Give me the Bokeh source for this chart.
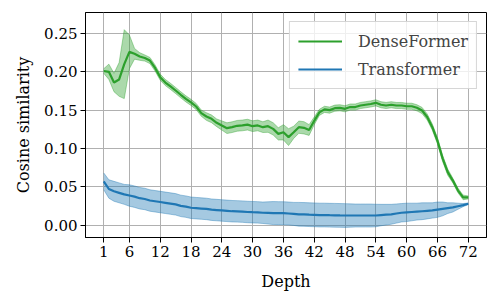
from bokeh.plotting import figure
from bokeh.models import FixedTicker, NumeralTickFormatter, Range1d, Legend, LegendItem, ColumnDataSource
from bokeh.embed import file_html
from bokeh.resources import INLINE

depth = list(range(1, 73))

dense_mean = [0.201, 0.200, 0.186, 0.190, 0.210, 0.226, 0.2235, 0.220, 0.218, 0.2147,
              0.205, 0.193, 0.186, 0.181, 0.1756, 0.170, 0.1647, 0.160, 0.1547, 0.146,
              0.1416, 0.1386, 0.1334, 0.1299, 0.1264, 0.1277, 0.1295, 0.130, 0.131, 0.129,
              0.130, 0.1277, 0.129, 0.1255, 0.119, 0.121, 0.1147, 0.121, 0.1277, 0.1269,
              0.124, 0.136, 0.147, 0.151, 0.150, 0.1525, 0.153, 0.1517, 0.154, 0.154,
              0.156, 0.157, 0.158, 0.1595, 0.157, 0.156, 0.157, 0.156, 0.156, 0.155,
              0.155, 0.153, 0.1495, 0.141, 0.1277, 0.110, 0.087, 0.069, 0.058, 0.045,
              0.036, 0.036]
dense_std = [0.003, 0.010, 0.012, 0.022, 0.045, 0.022, 0.007, 0.005, 0.004, 0.004,
             0.004, 0.004, 0.004, 0.004, 0.004, 0.004, 0.004, 0.004, 0.004, 0.004,
             0.005, 0.005, 0.005, 0.006, 0.007, 0.007, 0.007, 0.007, 0.007, 0.007,
             0.007, 0.007, 0.008, 0.008, 0.008, 0.010, 0.011, 0.008, 0.008, 0.008,
             0.007, 0.005, 0.004, 0.004, 0.004, 0.004, 0.004, 0.004, 0.004, 0.004,
             0.004, 0.004, 0.004, 0.004, 0.004, 0.004, 0.004, 0.004, 0.004, 0.004,
             0.004, 0.004, 0.004, 0.004, 0.004, 0.004, 0.004, 0.004, 0.003, 0.003,
             0.003, 0.002]

trans_mean = [0.057, 0.047, 0.044, 0.042, 0.040, 0.0385, 0.037, 0.035, 0.034, 0.032,
              0.031, 0.030, 0.029, 0.028, 0.027, 0.025, 0.024, 0.0225, 0.022, 0.0215,
              0.021, 0.020, 0.0195, 0.019, 0.0185, 0.018, 0.0178, 0.0175, 0.017, 0.0167,
              0.0165, 0.016, 0.0158, 0.0156, 0.0155, 0.0154, 0.015, 0.0145, 0.014, 0.0138,
              0.0135, 0.0133, 0.013, 0.013, 0.0128, 0.0127, 0.0125, 0.0124, 0.0124, 0.0124,
              0.0124, 0.0124, 0.0124, 0.0124, 0.013, 0.0135, 0.014, 0.015, 0.016, 0.0165,
              0.017, 0.0175, 0.018, 0.0185, 0.019, 0.020, 0.021, 0.022, 0.023, 0.0245,
              0.026, 0.0277]
trans_std = [0.011, 0.012, 0.013, 0.013, 0.013, 0.014, 0.014, 0.014, 0.014, 0.014,
             0.014, 0.014, 0.014, 0.014, 0.014, 0.014, 0.014, 0.014, 0.014, 0.014,
             0.014, 0.014, 0.014, 0.014, 0.014, 0.014, 0.014, 0.014, 0.014, 0.014,
             0.014, 0.014, 0.0145, 0.015, 0.015, 0.015, 0.015, 0.015, 0.0155, 0.0155,
             0.0155, 0.0155, 0.0155, 0.0155, 0.0155, 0.0155, 0.0155, 0.0155, 0.0152, 0.015,
             0.015, 0.015, 0.015, 0.0147, 0.014, 0.0135, 0.013, 0.0125, 0.012, 0.012,
             0.0115, 0.011, 0.011, 0.0105, 0.010, 0.010, 0.009, 0.007, 0.006, 0.004,
             0.002, 0.001]

x_ticks = [1, 6, 12, 18, 24, 30, 36, 42, 48, 54, 60, 66, 72]
y_ticks = [0.0, 0.05, 0.10, 0.15, 0.20, 0.25]

GREEN = "#2ca02c"
BLUE = "#1f77b4"
FONT = "DejaVu Serif"

p = figure(output_backend="svg", toolbar_location=None,
           frame_width=401, frame_height=225,
           min_border_left=85, min_border_right=12, min_border_top=12, min_border_bottom=62,
           x_range=Range1d(-2.55, 75.55), y_range=Range1d(-0.0163, 0.2774))

def band(mean, std):
    lo = [m - s for m, s in zip(mean, std)]
    hi = [m + s for m, s in zip(mean, std)]
    return ColumnDataSource(dict(x=depth, y=mean, lo=lo, hi=hi))

src_d = band(dense_mean, dense_std)
src_t = band(trans_mean, trans_std)

for src, col in ((src_d, GREEN), (src_t, BLUE)):
    p.varea(x="x", y1="lo", y2="hi", source=src, fill_color=col, fill_alpha=0.4)
    p.line(x="x", y="lo", source=src, line_color=col, line_alpha=0.4, line_width=1)
    p.line(x="x", y="hi", source=src, line_color=col, line_alpha=0.4, line_width=1)

r_d = p.line(x="x", y="y", source=src_d, line_color=GREEN, line_width=2.2)
r_t = p.line(x="x", y="y", source=src_t, line_color=BLUE, line_width=2.2)

legend = Legend(items=[LegendItem(label="DenseFormer", renderers=[r_d]),
                       LegendItem(label="Transformer", renderers=[r_t])],
                location="top_right")
legend.label_text_font = FONT
legend.label_text_font_size = "16px"
legend.label_standoff = 16
legend.glyph_width = 44
legend.glyph_height = 22
legend.label_height = 22
legend.spacing = 6
legend.padding = 8
legend.margin = 9
legend.border_line_color = "#cccccc"
legend.border_line_alpha = 0.8
legend.background_fill_alpha = 0.8
p.add_layout(legend)

p.xaxis.ticker = FixedTicker(ticks=x_ticks)
p.yaxis.ticker = FixedTicker(ticks=y_ticks)
p.yaxis.formatter = NumeralTickFormatter(format="0.00")
p.xaxis.axis_label = "Depth"
p.yaxis.axis_label = "Cosine similarity"

for ax in (p.xaxis, p.yaxis):
    ax.axis_label_text_font = FONT
    ax.axis_label_text_font_size = "16px"
    ax.axis_label_text_font_style = "normal"
    ax.major_label_text_font = FONT
    ax.major_label_text_font_size = "15px"
    ax.major_label_text_color = "black"
    ax.axis_label_text_color = "black"
    ax.minor_tick_line_color = None
    ax.major_tick_in = 0
    ax.major_tick_out = 5
    ax.major_tick_line_color = "black"
    ax.axis_line_color = "black"
    ax.major_label_standoff = 3

p.xaxis.axis_label_standoff = 12
p.yaxis.axis_label_standoff = 8

p.grid.grid_line_color = "#b0b0b0"
p.grid.grid_line_width = 1
p.outline_line_color = "black"
p.outline_line_width = 1
p.background_fill_color = "white"

open("out.html", "w").write(file_html(p, INLINE))
